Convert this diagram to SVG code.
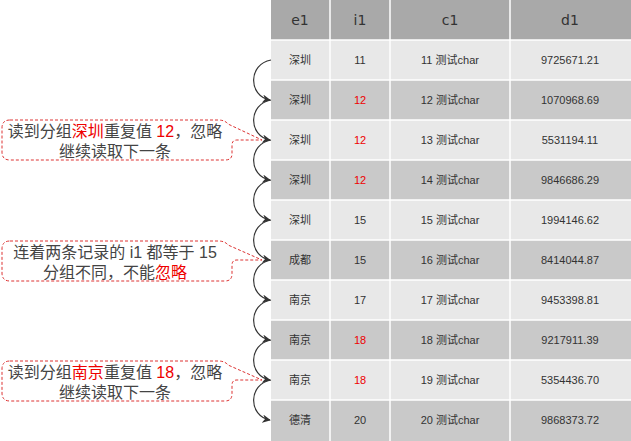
<svg xmlns="http://www.w3.org/2000/svg" width="631" height="441" viewBox="0 0 631 441">
<style>
.c{font-family:"Liberation Sans","Noto Sans CJK SC",sans-serif;font-size:11px;fill:#333;text-anchor:middle}
.h{font-family:"DejaVu Sans",sans-serif;font-size:14px;fill:#333;text-anchor:middle}
.r{fill:#e00}
.t{font-family:"Liberation Sans","Noto Sans CJK SC",sans-serif;font-size:16px;fill:#444;text-anchor:middle}
.co{fill:#fff;stroke:#d33;stroke-dasharray:3 2;stroke-width:1}
.a{fill:none;stroke:#333;stroke-width:1.2;marker-end:url(#m)}
.g{stroke:#fff;stroke-width:1.5}
</style>
<defs><marker id="m" viewBox="0 0 10 10" refX="9" refY="5" markerWidth="7" markerHeight="7" orient="auto"><path d="M0,0L10,5L0,10L3,5z" fill="#333"/></marker></defs>
<rect width="631" height="441" fill="#fff"/>
<g id="table">
<rect x="271" y="0" width="360" height="40" fill="#a9a9a9"/>
<rect x="271" y="40" width="360" height="40" fill="#e8e8e8"/>
<rect x="271" y="80" width="360" height="40" fill="#c9c9c9"/>
<rect x="271" y="120" width="360" height="40" fill="#e8e8e8"/>
<rect x="271" y="160" width="360" height="40" fill="#c9c9c9"/>
<rect x="271" y="200" width="360" height="40" fill="#e8e8e8"/>
<rect x="271" y="240" width="360" height="40" fill="#c9c9c9"/>
<rect x="271" y="280" width="360" height="40" fill="#e8e8e8"/>
<rect x="271" y="320" width="360" height="40" fill="#c9c9c9"/>
<rect x="271" y="360" width="360" height="40" fill="#e8e8e8"/>
<rect x="271" y="400" width="360" height="41" fill="#c9c9c9"/>
<g class="g">
<line x1="330" y1="0" x2="330" y2="441"/><line x1="390" y1="0" x2="390" y2="441"/><line x1="510" y1="0" x2="510" y2="441"/>
<line x1="271" y1="40" x2="631" y2="40"/><line x1="271" y1="80" x2="631" y2="80"/><line x1="271" y1="120" x2="631" y2="120"/><line x1="271" y1="160" x2="631" y2="160"/><line x1="271" y1="200" x2="631" y2="200"/><line x1="271" y1="240" x2="631" y2="240"/><line x1="271" y1="280" x2="631" y2="280"/><line x1="271" y1="320" x2="631" y2="320"/><line x1="271" y1="360" x2="631" y2="360"/><line x1="271" y1="400" x2="631" y2="400"/>
</g>
<text class="h" x="300" y="25">e1</text><text class="h" x="360" y="25">i1</text><text class="h" x="450" y="25">c1</text><text class="h" x="570" y="25">d1</text>
<g>
<text class="c" x="300" y="64">深圳</text><text class="c" x="360" y="64">11</text><text class="c" x="450" y="64">11 测试char</text><text class="c" x="570" y="64">9725671.21</text>
<text class="c" x="300" y="104">深圳</text><text class="c r" x="360" y="104">12</text><text class="c" x="450" y="104">12 测试char</text><text class="c" x="570" y="104">1070968.69</text>
<text class="c" x="300" y="144">深圳</text><text class="c r" x="360" y="144">12</text><text class="c" x="450" y="144">13 测试char</text><text class="c" x="570" y="144">5531194.11</text>
<text class="c" x="300" y="184">深圳</text><text class="c r" x="360" y="184">12</text><text class="c" x="450" y="184">14 测试char</text><text class="c" x="570" y="184">9846686.29</text>
<text class="c" x="300" y="224">深圳</text><text class="c" x="360" y="224">15</text><text class="c" x="450" y="224">15 测试char</text><text class="c" x="570" y="224">1994146.62</text>
<text class="c" x="300" y="264">成都</text><text class="c" x="360" y="264">15</text><text class="c" x="450" y="264">16 测试char</text><text class="c" x="570" y="264">8414044.87</text>
<text class="c" x="300" y="304">南京</text><text class="c" x="360" y="304">17</text><text class="c" x="450" y="304">17 测试char</text><text class="c" x="570" y="304">9453398.81</text>
<text class="c" x="300" y="344">南京</text><text class="c r" x="360" y="344">18</text><text class="c" x="450" y="344">18 测试char</text><text class="c" x="570" y="344">9217911.39</text>
<text class="c" x="300" y="384">南京</text><text class="c r" x="360" y="384">18</text><text class="c" x="450" y="384">19 测试char</text><text class="c" x="570" y="384">5354436.70</text>
<text class="c" x="300" y="424">德清</text><text class="c" x="360" y="424">20</text><text class="c" x="450" y="424">20 测试char</text><text class="c" x="570" y="424">9868373.72</text>
</g>
</g>
<g id="connectors">
<path class="a" d="M271,60 C248,64 248,96 270,100"/>
<path class="a" d="M271,100 C248,104 248,136 270,140"/>
<path class="a" d="M271,140 C248,144 248,176 270,180"/>
<path class="a" d="M271,180 C248,184 248,216 270,220"/>
<path class="a" d="M271,220 C248,224 248,256 270,260"/>
<path class="a" d="M271,260 C248,264 248,296 270,300"/>
<path class="a" d="M271,300 C248,304 248,336 270,340"/>
<path class="a" d="M271,340 C248,344 248,376 270,380"/>
<path class="a" d="M271,380 C248,384 248,416 270,420"/>
</g>
<g id="callout1">
<path class="co" d="M10,120 H218 Q225,120 228,124 L262,140 H237 Q232,140 232,145 V154 Q232,160 225,160 H10 Q2,160 2,152 V128 Q2,120 10,120Z"/>
<text class="t" x="115" y="137">读到分组<tspan class="r">深圳</tspan>重复值 <tspan class="r">12</tspan>，忽略</text>
<text class="t" x="115" y="157">继续读取下一条</text>
</g>
<g id="callout2">
<path class="co" d="M10,241 H218 Q225,241 228,245 L262,260 H237 Q232,260 232,265 V274 Q232,281 225,281 H10 Q2,281 2,273 V249 Q2,241 10,241Z"/>
<text class="t" x="115" y="258">连着两条记录的 i1 都等于 15</text>
<text class="t" x="115" y="278">分组不同，不能<tspan class="r">忽略</tspan></text>
</g>
<g id="callout3">
<path class="co" d="M10,361 H218 Q225,361 228,365 L262,380 H237 Q232,380 232,385 V394 Q232,401 225,401 H10 Q2,401 2,393 V369 Q2,361 10,361Z"/>
<text class="t" x="115" y="378">读到分组<tspan class="r">南京</tspan>重复值 <tspan class="r">18</tspan>，忽略</text>
<text class="t" x="115" y="398">继续读取下一条</text>
</g>
</svg>
